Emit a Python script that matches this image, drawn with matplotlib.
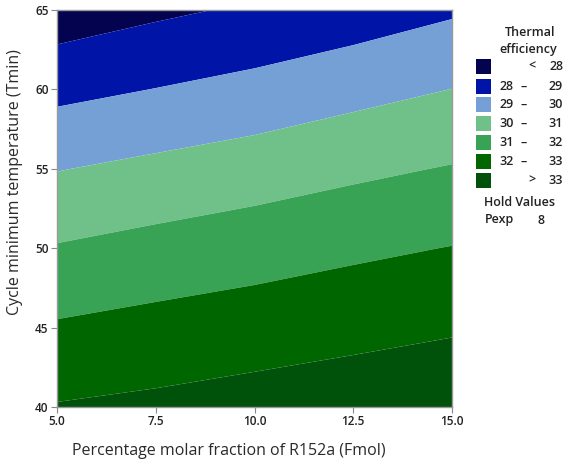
import numpy as np
import matplotlib.pyplot as plt
from matplotlib.patches import Rectangle

plt.rcParams['font.family'] = ['Open Sans', 'DejaVu Sans']

# grid
fmol = [5.0, 7.5, 10.0, 12.5, 15.0]
tmin = [40, 45, 50, 55, 60, 65]
# thermal efficiency, rows = tmin, cols = fmol
eff = [
    [33.06, 33.21, 33.39, 33.55, 33.70],
    [32.11, 32.32, 32.51, 32.71, 32.90],
    [31.07, 31.33, 31.56, 31.81, 32.03],
    [29.96, 30.24, 30.51, 30.80, 31.06],
    [28.73, 29.02, 29.31, 29.68, 30.01],
    [27.44, 27.82, 28.14, 28.46, 28.87],
]
levels = [20, 28, 29, 30, 31, 32, 33, 40]
colors = ['#03034f', '#0014a8', '#74a0d6', '#70c189', '#38a354', '#006600', '#00510a']
leg_left = ['', '28', '29', '30', '31', '32', '']
leg_mid = ['<', '\u2013', '\u2013', '\u2013', '\u2013', '\u2013', '>']
leg_right = ['28', '29', '30', '31', '32', '33', '33']

W, H = 581, 463
fig = plt.figure(figsize=(W / 100, H / 100), dpi=100)
ax = fig.add_axes([57 / W, 1 - 407 / H, 395 / W, 397 / H])

X, Y = np.meshgrid(fmol, tmin)
ax.contourf(X, Y, np.array(eff), levels=levels, colors=colors, antialiased=True)

ax.set_xlim(5, 15)
ax.set_ylim(40, 65)
ax.set_xticks([5, 7.5, 10, 12.5, 15])
ax.set_xticklabels(['5.0', '7.5', '10.0', '12.5', '15.0'])
ax.set_yticks([40, 45, 50, 55, 60, 65])
ax.tick_params(direction='out', length=4, color='#888888', labelsize=8.5, labelcolor='#222222', width=0.8, pad=2)
for lab in ax.get_xticklabels() + ax.get_yticklabels():
    lab.set_fontweight('semibold')
for s in ax.spines.values():
    s.set_color('#999999')
    s.set_linewidth(1)
ax.set_xlabel('Percentage molar fraction of R152a (Fmol)', fontsize=11.5, color='#2a2a2a', va='center')
ax.set_ylabel('Cycle minimum temperature (Tmin)', fontsize=11.5, color='#2a2a2a', va='center')
ax.xaxis.set_label_coords((229 - 57) / 395, (407 - 451) / 397)
ax.yaxis.set_label_coords((15 - 57) / 395, (407 - 182) / 397)


def fx(x):
    return x / W


def fy(y):
    return 1 - y / H


tk = dict(fontsize=9, color='#222222', fontweight='semibold')
fig.text(fx(530), fy(32), 'Thermal', ha='center', va='center', **tk)
fig.text(fx(528), fy(50), 'efficiency', ha='center', va='center', **tk)
rows_y = [66, 86, 104.5, 123.5, 142.5, 161.5, 180]
for i, yc in enumerate(rows_y):
    fig.patches.append(Rectangle((fx(476), fy(yc + 7.5)), 15 / W, 15 / H,
                                 transform=fig.transFigure, facecolor=colors[i], edgecolor='none'))
    if leg_left[i]:
        fig.text(fx(514), fy(yc), leg_left[i], ha='right', va='center', **tk)
    mx = 532 if leg_mid[i] in '<>' else 524
    fig.text(fx(mx), fy(yc), leg_mid[i], ha='center', va='center', **tk)
    fig.text(fx(563), fy(yc), leg_right[i], ha='right', va='center', **tk)

fig.text(fx(520), fy(203), 'Hold Values', ha='center', va='center', **tk)
fig.text(fx(500), fy(220), 'Pexp', ha='center', va='center', **tk)
fig.text(fx(541), fy(220), '8', ha='center', va='center', **tk)

plt.savefig('out.png', dpi=100)
